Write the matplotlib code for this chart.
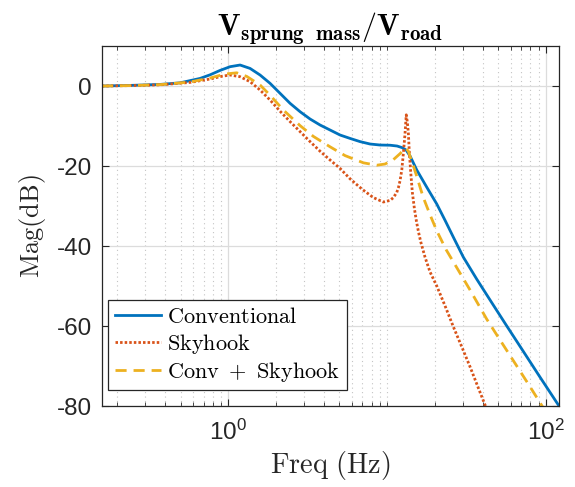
import matplotlib
matplotlib.use("Agg")
import matplotlib.pyplot as plt
from matplotlib.ticker import FixedLocator, FixedFormatter, NullFormatter

plt.rcParams['mathtext.fontset'] = 'custom'
plt.rcParams['mathtext.rm'] = 'Liberation Sans'
plt.rcParams['mathtext.it'] = 'Liberation Sans:italic'
plt.rcParams['mathtext.bf'] = 'Liberation Sans:bold'
plt.rcParams['font.family'] = ['Liberation Sans', 'DejaVu Sans']

# ---- data (frequency in Hz, magnitude in dB) ----
conv_f = [0.1593, 0.2402, 0.3712, 0.4963, 0.6632, 0.7667, 0.8865, 1.025, 1.185,
          1.370, 1.584, 1.831, 2.117, 2.448, 2.830, 3.273, 3.783, 4.374, 5.056,
          5.846, 6.759, 7.815, 9.034, 10.44, 11.56, 12.43, 13.18, 13.96, 15.39,
          17.79, 20.57, 23.21, 26.17, 30.26, 36.75, 44.57, 56.80, 68.89, 92.07,
          120.1, 132.3]
conv_db = [0.0, 0.15, 0.4, 0.8, 1.9, 2.8, 3.9, 4.83, 5.25,
           4.4, 2.75, 0.67, -1.83, -4.33, -6.42, -8.25, -9.75, -11.0, -12.25,
           -13.1, -13.9, -14.5, -14.75, -14.8, -15.0, -15.4, -16.0, -17.5, -21.0,
           -25.3, -29.5, -33.6, -37.8, -42.8, -48.3, -53.5, -60.0, -65.1, -72.8,
           -79.75, -82.3]

sky_f = [0.1593, 0.2402, 0.3712, 0.5738, 0.7667, 0.9127, 1.025, 1.185, 1.370,
         1.584, 1.831, 2.117, 2.448, 2.830, 3.273, 3.783, 4.374, 5.056, 5.846,
         6.960, 8.199, 9.478, 10.44, 10.96, 11.51, 11.79, 12.08, 12.38, 12.67,
         12.98, 13.21, 13.42, 13.62, 13.82, 14.11, 14.43, 14.86, 15.34, 15.80,
         16.31, 17.35, 18.66, 20.57, 23.21, 26.17, 29.56, 33.34, 37.18, 41.45, 45.87]
sky_db = [0.0, 0.1, 0.3, 0.9, 1.75, 2.45, 2.75, 2.33, 1.08,
          -1.0, -3.5, -6.3, -8.9, -11.4, -13.9, -16.3, -18.5, -20.6, -23.2,
          -25.8, -27.9, -29.0, -28.6, -27.9, -26.6, -25.4, -23.6, -21.0, -16.8,
          -11.8, -7.2, -9.0, -11.8, -16.8, -21.8, -26.6, -30.6, -34.0, -36.6,
          -39.0, -42.8, -46.5, -50.0, -55.0, -60.2, -65.2, -70.2, -75.0, -79.75, -84.0]

comb_f = [0.1593, 0.2402, 0.3712, 0.5738, 0.7667, 0.9533, 1.129, 1.306, 1.584,
          1.831, 2.221, 2.830, 3.433, 4.374, 5.437, 7.090, 8.612, 9.714, 10.96,
          12.08, 12.67, 13.08, 13.62, 13.96, 14.65, 15.39, 16.14, 16.93, 18.66,
          20.57, 23.54, 27.49, 33.34, 42.48, 51.52, 65.66, 77.34, 89.82, 99.0]
comb_db = [0.0, 0.1, 0.35, 1.0, 2.0, 3.0, 3.3, 2.4, 0.25,
           -2.3, -6.0, -9.9, -12.6, -15.2, -17.4, -19.2, -19.8, -19.5, -18.4,
           -16.9, -16.0, -15.5, -16.3, -17.6, -20.0, -22.6, -25.3, -27.9, -32.2,
           -36.2, -40.9, -45.4, -51.0, -58.3, -63.5, -70.0, -74.4, -78.5, -81.2]

labels = [r'$\mathrm{Conventional}$', r'$\mathrm{Skyhook}$', r'$\mathrm{Conv}\ +\ \mathrm{Skyhook}$']
yticks = [-80, -60, -40, -20, 0]
xmajor = [1, 100]
xmajor_labels = ['$10^{0}$', '$10^{2}$']

blue, red, yellow = '#0072BD', '#D95319', '#EDB120'
dark = '#262626'

fig = plt.figure(figsize=(5.75, 4.87), dpi=100)
ax = fig.add_axes([0.177, 0.1663, 0.7953, 0.7392])

ax.plot(conv_f, conv_db, color=blue, lw=2.0, label=labels[0])
ax.plot(sky_f, sky_db, color=red, lw=2.0, linestyle=(0, (0.9, 0.75)), label=labels[1])
ax.plot(comb_f, comb_db, color=yellow, lw=2.0, linestyle=(0, (4, 2.5)), label=labels[2])

ax.set_xscale('log')
ax.set_xlim(0.1593, 121.3)
ax.set_ylim(-80, 10)

minors = []
for dec in [0.1, 1, 10, 100]:
    for m in range(1, 10):
        v = dec * m
        if v in (1, 100):
            continue
        if 0.16 < v < 121:
            minors.append(v)
ax.xaxis.set_major_locator(FixedLocator(xmajor))
ax.xaxis.set_major_formatter(FixedFormatter(xmajor_labels))
ax.xaxis.set_minor_locator(FixedLocator(minors))
ax.xaxis.set_minor_formatter(NullFormatter())
ax.set_yticks(yticks)
ax.set_yticklabels([str(v) for v in yticks])

ax.grid(True, which='major', color='#dcdcdc', lw=0.9, linestyle='-')
ax.grid(True, which='minor', axis='x', color='#c4c4c4', lw=0.8, linestyle=(0, (1, 3)))
ax.set_axisbelow(True)

ax.tick_params(which='both', direction='in', top=True, right=True, colors=dark,
               labelsize=17.5)
ax.tick_params(which='major', length=5, width=0.8)
ax.tick_params(which='minor', length=3, width=0.6)
ax.tick_params(axis='x', pad=10)
ax.tick_params(axis='y', pad=7)
for s in ax.spines.values():
    s.set_color(dark)
    s.set_linewidth(0.9)

ax.set_xlabel(r'$\mathrm{Freq\ (Hz)}$', fontsize=20.4, color=dark, math_fontfamily='cm', labelpad=3)
ax.set_ylabel(r'$\mathrm{Mag(dB)}$', fontsize=19, color=dark, math_fontfamily='cm', labelpad=6)
ax.set_title(r'$\mathbf{V}_{\mathbf{sprung\ \ mass}}/\mathbf{V}_{\mathbf{road}}$', fontsize=21.5,
             color='black', math_fontfamily='cm', pad=7)

leg = ax.legend(loc='lower left', bbox_to_anchor=(0.0138, 0.044), borderaxespad=0,
                fontsize=16, frameon=True, fancybox=False, framealpha=1,
                edgecolor=dark, handlelength=2.1, handletextpad=0.25,
                labelspacing=0.18, borderpad=0.3)
leg.get_frame().set_linewidth(0.9)
for t in leg.get_texts():
    t.set_math_fontfamily('cm')

fig.savefig('out.png', dpi=100)
